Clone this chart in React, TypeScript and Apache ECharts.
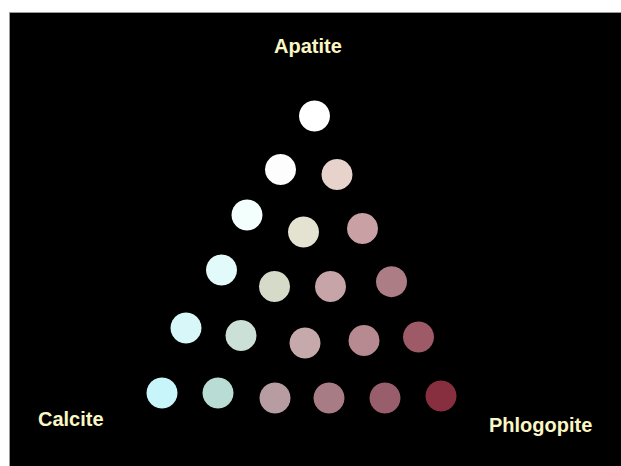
import React, { useEffect, useRef } from "react";
import * as echarts from "echarts";

// Ternary sample grid: Apatite (top), Calcite (bottom-left), Phlogopite (bottom-right)
const sampleNames: string[] = [
  "Ap100",
  "Ap80-Cc20", "Ap80-Ph20",
  "Ap60-Cc40", "Ap60-Cc20-Ph20", "Ap60-Ph40",
  "Ap40-Cc60", "Ap40-Cc40-Ph20", "Ap40-Cc20-Ph40", "Ap40-Ph60",
  "Ap20-Cc80", "Ap20-Cc60-Ph20", "Ap20-Cc40-Ph40", "Ap20-Cc20-Ph60", "Ap20-Ph80",
  "Cc100", "Cc80-Ph20", "Cc60-Ph40", "Cc40-Ph60", "Cc20-Ph80", "Ph100",
];
const sampleX: number[] = [
  314.5,
  280.5, 337,
  247, 303.5, 362.5,
  221.5, 274.5, 330.5, 391.5,
  186, 241, 305, 364, 418.5,
  162, 218, 275, 329, 385, 441,
];
const sampleY: number[] = [
  116,
  169.5, 174.5,
  215, 232, 228.5,
  270, 286.5, 286.5, 281.7,
  328, 335.5, 343, 340.5, 337,
  393, 393, 398, 398, 398, 396,
];
const sampleColors: string[] = [
  "#ffffff",
  "#fdfdfd", "#e8d2cc",
  "#f2fffd", "#e4e3d2", "#c9a0a3",
  "#e2fafa", "#d6dbc9", "#c7a4a8", "#ad7d86",
  "#d8f7f8", "#cbe0d6", "#c6aaab", "#b78a91", "#9e5a66",
  "#c8f5fa", "#b9ddd4", "#b79ca2", "#a87c85", "#985e6b", "#872f3e",
];
const endMembers: string[] = ["Apatite", "Calcite", "Phlogopite"];

export default function App() {
  const ref = useRef<HTMLDivElement>(null);
  useEffect(() => {
    if (!ref.current) return;
    const chart = echarts.init(ref.current, null, { renderer: "svg" });
    const data = sampleX.map((x, i) => ({
      name: sampleNames[i],
      value: [x, sampleY[i]],
      itemStyle: { color: sampleColors[i] },
    }));
    const labelStyle = {
      fill: "#fbf7c4",
      fontSize: 20,
      fontWeight: "bold" as const,
      fontFamily: "Liberation Sans, Arial, sans-serif",
      textVerticalAlign: "middle" as const,
    };
    chart.setOption({
      animation: false,
      backgroundColor: "#ffffff",
      grid: { left: 0, right: 0, top: 0, bottom: 0 },
      xAxis: { type: "value", min: 0, max: 621, show: false },
      yAxis: { type: "value", min: 0, max: 466, inverse: true, show: false },
      graphic: [
        {
          type: "rect",
          z: -10,
          shape: { x: 9.5, y: 12.5, width: 620, height: 460 },
          style: { fill: "#000000", stroke: "#9a9a9a", lineWidth: 1 },
          silent: true,
        },
        { type: "text", x: 274, y: 46, style: { ...labelStyle, text: endMembers[0] } },
        { type: "text", x: 38, y: 419, style: { ...labelStyle, text: endMembers[1] } },
        { type: "text", x: 489, y: 425, style: { ...labelStyle, text: endMembers[2] } },
      ],
      series: [
        {
          type: "scatter",
          symbol: "circle",
          symbolSize: 31,
          data,
          itemStyle: { opacity: 1 },
        },
      ],
    });
    return () => chart.dispose();
  }, []);
  return (
    <div
      ref={ref}
      style={{ position: "fixed", left: 0, top: 0, width: 621, height: 466 }}
    />
  );
}
